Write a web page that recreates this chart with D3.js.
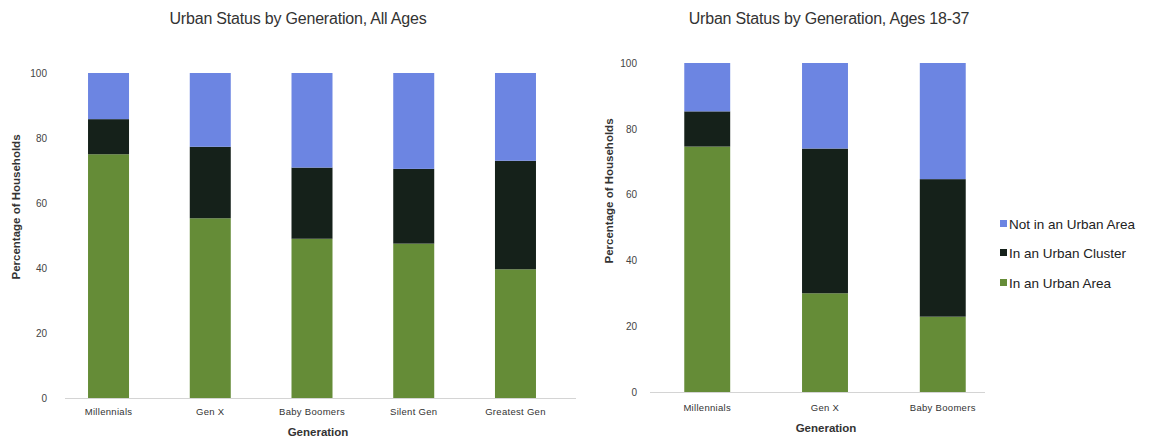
<!DOCTYPE html>
<html>
<head>
<meta charset="utf-8">
<script src="https://cdn.jsdelivr.net/npm/d3@7"></script>
<style>
  html, body { margin: 0; padding: 0; background: #fff; }
  svg { display: block; font-family: "Liberation Sans", Arial, sans-serif; }
</style>
</head>
<body>
<svg id="chart" width="1151" height="439"></svg>
<script>
// Series order (bottom to top of each stacked bar)
const seriesNames = ["In an Urban Area", "In an Urban Cluster", "Not in an Urban Area"];
const seriesColors = ["#658c37", "#15211a", "#6c85e2"];
const legendOrder = ["Not in an Urban Area", "In an Urban Cluster", "In an Urban Area"];

// Panel 1: all ages
const allAgesTitle = "Urban Status by Generation, All Ages";
const allAgesCategories = ["Millennials", "Gen X", "Baby Boomers", "Silent Gen", "Greatest Gen"];
const allAgesUrbanArea    = [75, 55.3, 49, 47.5, 39.6];
const allAgesUrbanCluster = [10.8, 22, 21.9, 23, 33.4];
const allAgesNotUrban     = [14.2, 22.7, 29.1, 29.5, 27];

// Panel 2: ages 18-37
const youngTitle = "Urban Status by Generation, Ages 18-37";
const youngCategories = ["Millennials", "Gen X", "Baby Boomers"];
const youngUrbanArea    = [74.6, 30, 22.9];
const youngUrbanCluster = [10.7, 44, 41.8];
const youngNotUrban     = [14.7, 26, 35.3];

const yTicks = [0, 20, 40, 60, 80, 100];
const yTitle = "Percentage of Households";
const xTitle = "Generation";

const svg = d3.select("#chart");

function drawPanel(cfg) {
  const rows = cfg.categories.map((c, i) => ({
    cat: c,
    "In an Urban Area": cfg.area[i],
    "In an Urban Cluster": cfg.cluster[i],
    "Not in an Urban Area": cfg.notUrban[i]
  }));
  const stacked = d3.stack().keys(seriesNames)(rows);

  const x = d3.scaleBand()
    .domain(cfg.categories)
    .range(cfg.xRange)
    .paddingInner(cfg.padInner)
    .paddingOuter(cfg.padOuter);
  const y = d3.scaleLinear().domain([0, 100]).range(cfg.yRange);
  const color = d3.scaleOrdinal().domain(seriesNames).range(seriesColors);

  const g = svg.append("g");

  // baseline
  g.append("line")
    .attr("x1", cfg.baseline[0]).attr("x2", cfg.baseline[1])
    .attr("y1", y(0) + 0.5).attr("y2", y(0) + 0.5)
    .attr("stroke", "#d4d4d4").attr("stroke-width", 1);

  // stacked bars
  g.selectAll("g.series")
    .data(stacked)
    .join("g")
    .attr("class", "series")
    .attr("fill", d => color(d.key))
    .selectAll("rect")
    .data(d => d)
    .join("rect")
    .attr("x", d => x(d.data.cat))
    .attr("width", x.bandwidth())
    .attr("y", d => y(d[1]))
    .attr("height", d => y(d[0]) - y(d[1]));

  // y axis (labels only)
  const yAxis = d3.axisLeft(y).tickValues(yTicks).tickSize(0).tickPadding(0);
  const ya = g.append("g")
    .attr("transform", `translate(${cfg.yLabelX},0)`)
    .call(yAxis);
  ya.select(".domain").remove();
  ya.selectAll("text")
    .attr("fill", "#444")
    .style("font-size", "10px");

  // x axis (labels only)
  const xAxis = d3.axisBottom(x).tickSize(0).tickPadding(0);
  const xa = g.append("g")
    .attr("transform", `translate(0,${cfg.xLabelY})`)
    .call(xAxis);
  xa.select(".domain").remove();
  xa.selectAll("text")
    .attr("fill", "#333")
    .attr("dy", "0.35em")
    .style("font-size", "9.5px")
    .style("letter-spacing", "0.3px");

  // titles
  g.append("text")
    .attr("x", cfg.titlePos[0]).attr("y", cfg.titlePos[1])
    .attr("text-anchor", "middle")
    .attr("fill", "#333")
    .style("font-size", "16px")
    .style("letter-spacing", "-0.2px")
    .text(cfg.title);

  g.append("text")
    .attr("x", cfg.xTitlePos[0]).attr("y", cfg.xTitlePos[1])
    .attr("text-anchor", "middle")
    .attr("dy", "0.35em")
    .attr("fill", "#333")
    .style("font-size", "11.5px")
    .style("font-weight", "bold")
    .text(xTitle);

  g.append("text")
    .attr("transform", `translate(${cfg.yTitlePos[0]},${cfg.yTitlePos[1]}) rotate(-90)`)
    .attr("text-anchor", "middle")
    .attr("dy", "0.35em")
    .attr("fill", "#333")
    .style("font-size", "11.5px")
    .style("font-weight", "bold")
    .text(yTitle);
}

drawPanel({
  title: allAgesTitle,
  categories: allAgesCategories,
  area: allAgesUrbanArea,
  cluster: allAgesUrbanCluster,
  notUrban: allAgesNotUrban,
  xRange: [57, 567], padInner: 0.597, padOuter: 0.305,
  yRange: [398, 73],
  baseline: [65, 576],
  yLabelX: 47,
  xLabelY: 412,
  titlePos: [298, 24],
  xTitlePos: [318, 432],
  yTitlePos: [16, 207]
});

drawPanel({
  title: youngTitle,
  categories: youngCategories,
  area: youngUrbanArea,
  cluster: youngUrbanCluster,
  notUrban: youngNotUrban,
  xRange: [650, 1000], padInner: 0.61, padOuter: 0.291,
  yRange: [392, 63],
  baseline: [650, 985],
  yLabelX: 637,
  xLabelY: 408,
  titlePos: [829, 24],
  xTitlePos: [826, 428],
  yTitlePos: [609, 191]
});

// legend
const legendY = [224, 253, 283];
const legendColor = d3.scaleOrdinal().domain(seriesNames).range(seriesColors);
const lg = svg.append("g").selectAll("g")
  .data(legendOrder)
  .join("g")
  .attr("transform", (d, i) => `translate(1000,${legendY[i]})`);
lg.append("rect")
  .attr("x", 0).attr("y", -4)
  .attr("width", 7).attr("height", 7)
  .attr("fill", d => legendColor(d));
lg.append("text")
  .attr("x", 9).attr("y", 0)
  .attr("dy", "0.35em")
  .attr("fill", "#222")
  .style("font-size", "13.5px")
  .text(d => d);
</script>
</body>
</html>
